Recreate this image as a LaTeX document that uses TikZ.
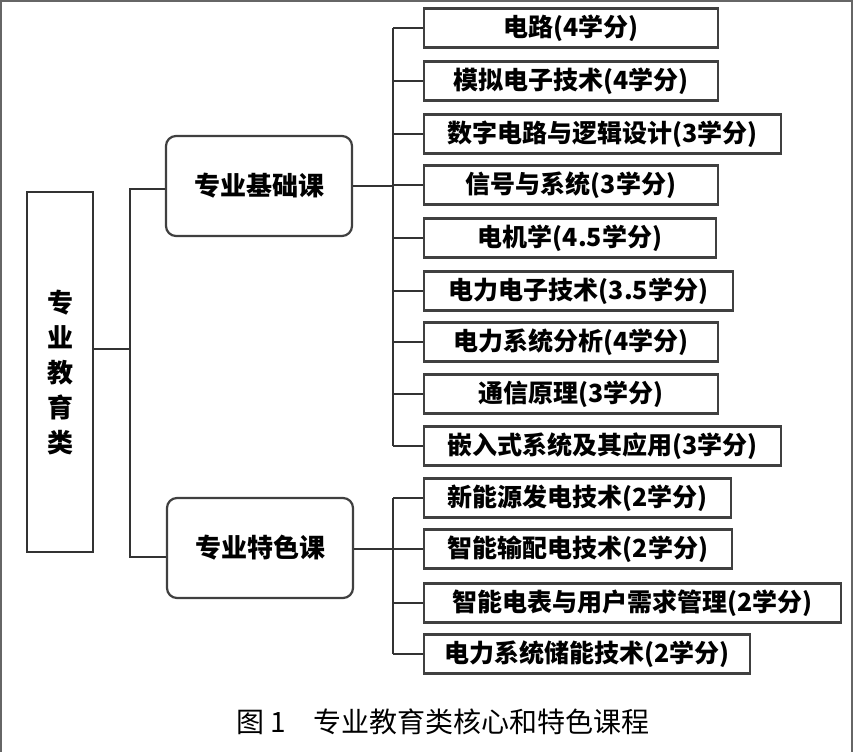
\documentclass[tikz,border=0pt]{standalone}
\usepackage{fontspec}
\newfontfamily\cjk{Noto Sans CJK SC}
\usetikzlibrary{positioning}

\begin{document}
\begin{tikzpicture}[x=1pt,y=-1pt,
  course/.style={draw=black!75,line width=2.2pt,fill=white,
    minimum height=39pt,inner sep=0pt,anchor=west,
    font=\cjk\bfseries\fontsize{25}{27}\selectfont},
  group/.style={draw=black!75,line width=2.2pt,rounded corners=10pt,
    minimum width=186pt,minimum height=100pt,inner sep=0pt,
    font=\cjk\bfseries\fontsize{26}{28}\selectfont},
  link/.style={draw=black!80,line width=2.6pt}]
  \useasboundingbox (0,0) rectangle (854,752);
  \draw[black!60,line width=2pt] (1,752) -- (1,1) -- (852,1) -- (852,752);

  \node[
    draw=black!80,
    line width=2.2pt,
    minimum width=66pt,
    minimum height=360pt,
    align=center,
    font=\cjk\bfseries\fontsize{26}{35}\selectfont
  ] (edu) at (60,372) {专\\业\\教\\育\\类};

  \node[group] (base) at (259,186) {专业基础课};
  \node[group] (feat) at (260,548) {专业特色课};

  % core courses
  \node[course,minimum width=294pt] (c1) at (423,28) {电路(4学分)};
  \node[course,minimum width=294pt] (c2) at (423,81) {模拟电子技术(4学分)};
  \node[course,minimum width=357pt] (c3) at (423,134) {数字电路与逻辑设计(3学分)};
  \node[course,minimum width=294pt] (c4) at (423,185) {信号与系统(3学分)};
  \node[course,minimum width=292pt] (c5) at (423,238) {电机学(4.5学分)};
  \node[course,minimum width=309pt] (c6) at (423,291) {电力电子技术(3.5学分)};
  \node[course,minimum width=294pt] (c7) at (423,342) {电力系统分析(4学分)};
  \node[course,minimum width=294pt] (c8) at (423,394) {通信原理(3学分)};
  \node[course,minimum width=357pt] (c9) at (423,446) {嵌入式系统及其应用(3学分)};

  % special courses
  \node[course,minimum width=307pt] (s1) at (423,498) {新能源发电技术(2学分)};
  \node[course,minimum width=308pt] (s2) at (423,549) {智能输配电技术(2学分)};
  \node[course,minimum width=417pt] (s3) at (423,603) {智能电表与用户需求管理(2学分)};
  \node[course,minimum width=326pt] (s4) at (423,654) {电力系统储能技术(2学分)};

  \coordinate (eduout) at (130,349);
  \coordinate (jA) at (130,189);
  \coordinate (jB) at (130,557);
  \coordinate (busA) at (393,186);
  \coordinate (busB) at (393,549);

  \draw[link] (eduout -| edu.east) -- (eduout);
  \draw[link] (jA -| base.west) -- (jA) -- (jB) -- (jB -| feat.west);
  \draw[link] (base.east |- busA) -- (busA);
  \draw[link] (feat.east |- busB) -- (busB);
  \draw[link] (busA |- c1) -- (busA |- c9);
  \draw[link] (busB |- s1) -- (busB |- s4);
  \foreach \c in {c1,c2,c3,c4,c5,c6,c7,c8,c9}
    \draw[link] (busA |- \c) -- (\c.west);
  \foreach \s in {s1,s2,s3,s4}
    \draw[link] (busB |- \s) -- (\s.west);

  \node[font=\cjk\fontsize{28}{30}\selectfont] (cap) at (443,722)
    {图 1\quad 专业教育类核心和特色课程};
\end{tikzpicture}
\end{document}
